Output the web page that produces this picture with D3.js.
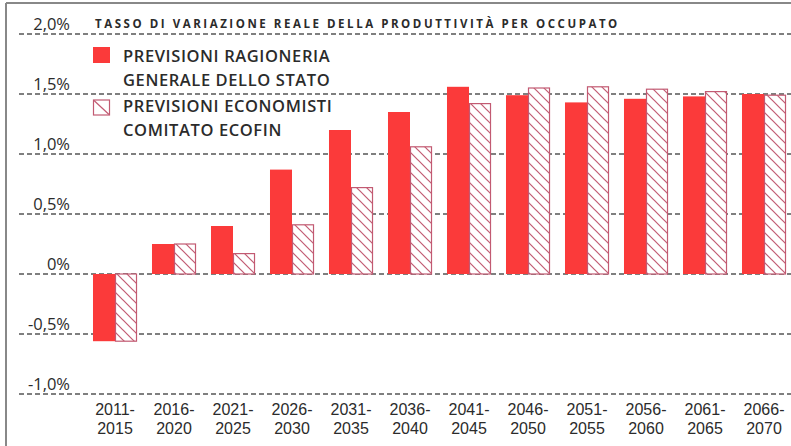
<!DOCTYPE html>
<html>
<head>
<meta charset="utf-8">
<script src="https://cdn.jsdelivr.net/npm/d3@7"></script>
<style>
  html, body { margin: 0; padding: 0; background: #fff; }
  svg { display: block; font-family: "Open Sans", "DejaVu Sans", sans-serif; }
</style>
</head>
<body>
<svg id="chart" width="791" height="446"></svg>
<script>
// Five-year periods on the x axis
const periods = ["2011-2015", "2016-2020", "2021-2025", "2026-2030", "2031-2035", "2036-2040",
                 "2041-2045", "2046-2050", "2051-2055", "2056-2060", "2061-2065", "2066-2070"];
// Real growth rate of productivity per worker, percent
const rgsValues    = [-0.56, 0.25, 0.40, 0.87, 1.20, 1.35, 1.56, 1.49, 1.43, 1.46, 1.48, 1.50];
const ecofinValues = [-0.56, 0.25, 0.17, 0.41, 0.72, 1.06, 1.42, 1.55, 1.56, 1.54, 1.52, 1.49];
const yTicks = [2.0, 1.5, 1.0, 0.5, 0, -0.5, -1.0];
const tickLabels = ["2,0%", "1,5%", "1,0%", "0,5%", "0%", "-0,5%", "-1,0%"];
const seriesNames = [["PREVISIONI RAGIONERIA", "GENERALE DELLO STATO"],
                     ["PREVISIONI ECONOMISTI", "COMITATO ECOFIN"]];
const title = "TASSO DI VARIAZIONE REALE DELLA PRODUTTIVITÀ PER OCCUPATO";

const RED = "#fb3a3a";
const HATCH = "#c25a72";
const GRID = "#555";
const TEXT = "#2b2b2b";

const svg = d3.select("#chart");

// hatch pattern for the second series
const defs = svg.append("defs");
const pat = defs.append("pattern")
  .attr("id", "hatch")
  .attr("patternUnits", "userSpaceOnUse")
  .attr("width", 10).attr("height", 10);
pat.append("rect").attr("width", 10).attr("height", 10).attr("fill", "#fff");
pat.append("path")
  .attr("d", "M0,0 L10,10 M-5,5 L5,15 M5,-5 L15,5")
  .attr("stroke", HATCH).attr("stroke-width", 1.2).attr("fill", "none");

// frame
svg.append("line").attr("x1", 6).attr("x2", 791).attr("y1", 3).attr("y2", 3)
  .attr("stroke", "#888").attr("stroke-width", 2);
svg.append("line").attr("x1", 6).attr("x2", 6).attr("y1", 3).attr("y2", 446)
  .attr("stroke", "#888").attr("stroke-width", 2);

const y = d3.scaleLinear().domain([-1, 2]).range([394, 34]);
const x = d3.scaleBand().domain(periods).range([85.5, 793.5])
  .paddingInner(0.254).paddingOuter(0.127);
const xs = d3.scaleBand().domain(["rgs", "ecofin"]).range([0, x.bandwidth()]);

// dashed gridlines with labels sitting above them
const grid = svg.append("g");
grid.selectAll("line").data(yTicks).join("line")
  .attr("x1", 19).attr("x2", 791)
  .attr("y1", d => y(d)).attr("y2", d => y(d))
  .attr("stroke", GRID).attr("stroke-width", 1.5)
  .attr("stroke-dasharray", "5,3");
grid.selectAll("text").data(yTicks).join("text")
  .attr("x", 70).attr("y", d => y(d) - 4)
  .attr("text-anchor", "end")
  .attr("font-size", 16.5).attr("fill", TEXT)
  .text((d, i) => tickLabels[i]);

// title
svg.append("rect").attr("x", 88).attr("y", 14).attr("width", 535).attr("height", 18).attr("fill", "#fff");
svg.append("text").attr("x", 95).attr("y", 28)
  .attr("font-size", 11.5).attr("font-weight", 700).attr("letter-spacing", 2.55)
  .attr("fill", TEXT).text(title);

// bars
const groups = svg.append("g").selectAll("g").data(periods).join("g")
  .attr("transform", d => `translate(${x(d)},0)`);
groups.append("rect")
  .attr("x", xs("rgs")).attr("width", xs.bandwidth())
  .attr("y", (d, i) => y(Math.max(0, rgsValues[i])))
  .attr("height", (d, i) => Math.abs(y(rgsValues[i]) - y(0)))
  .attr("fill", RED);
groups.append("rect")
  .attr("x", xs("ecofin") + 0.5).attr("width", xs.bandwidth() - 1)
  .attr("y", (d, i) => y(Math.max(0, ecofinValues[i])))
  .attr("height", (d, i) => Math.abs(y(ecofinValues[i]) - y(0)))
  .attr("fill", "url(#hatch)")
  .attr("stroke", HATCH).attr("stroke-width", 1.2);

// x labels on two lines
const xlab = svg.append("g");
[0, 1].forEach(line => {
  xlab.selectAll(null).data(periods).join("text")
    .attr("x", d => x(d) + x.bandwidth() / 2)
    .attr("y", line === 0 ? 415 : 434)
    .attr("text-anchor", "middle")
    .attr("font-family", "'Liberation Sans', Arial, sans-serif")
    .attr("font-size", 16).attr("fill", TEXT)
    .text(d => line === 0 ? d.split("-")[0] + "-" : d.split("-")[1]);
});

// legend
const legend = svg.append("g");
legend.append("rect").attr("x", 93).attr("y", 47).attr("width", 17).attr("height", 16).attr("fill", RED);
legend.append("rect").attr("x", 93.5).attr("y", 100).attr("width", 16).attr("height", 15)
  .attr("fill", "#fff").attr("stroke", HATCH).attr("stroke-width", 1.2);
legend.append("line").attr("x1", 94).attr("y1", 100.5).attr("x2", 109).attr("y2", 114.5)
  .attr("stroke", HATCH).attr("stroke-width", 1.2);
const legendY = [62, 86, 112, 136];
seriesNames.flat().forEach((t, i) => {
  legend.append("text").attr("x", 123).attr("y", legendY[i])
    .attr("font-size", 16.5).attr("font-weight", 600).attr("letter-spacing", 0.6)
    .attr("fill", TEXT).text(t);
});
</script>
</body>
</html>
